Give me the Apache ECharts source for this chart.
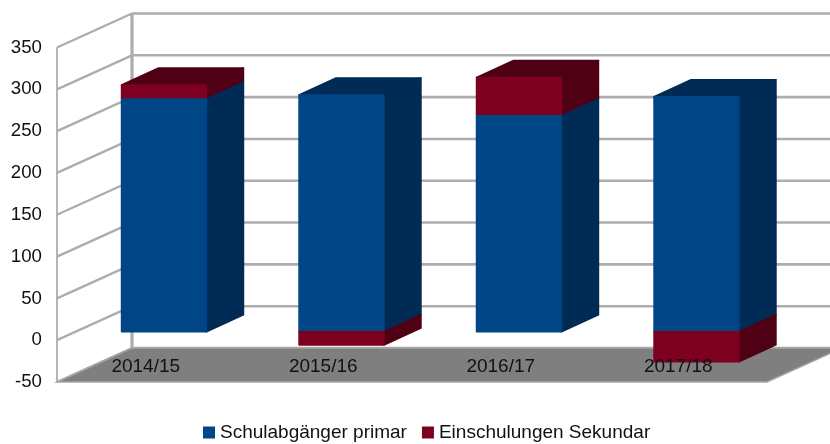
<!DOCTYPE html>
<html>
<head>
<meta charset="utf-8">
<style>html,body{margin:0;padding:0;background:#fff}#c{width:830px;height:444px}</style>
<script src="https://cdn.jsdelivr.net/npm/echarts@6/dist/echarts.min.js"></script>
</head>
<body>
<div id="c"></div>
<script>
const categories = ['2014/15', '2015/16', '2016/17', '2017/18'];
const schulabgaenger = [280, 283, 260, 281];
const einschulungen = [15, -16, 44, -36];
const yTicks = [-50, 0, 50, 100, 150, 200, 250, 300, 350];
const nameBlue = 'Schulabgänger primar';
const nameRed = 'Einschulungen Sekundar';

const DX = 75, DY = -34;          // oblique projection of the full depth
const NEAR = 0.25, FAR = 0.75;    // depth range occupied by bars
const BAR_FRAC = 0.478;
const FONT = '"Liberation Sans", Arial, sans-serif';
const GRID = '#adadad';

const chart = echarts.init(document.getElementById('c'), null, {renderer: 'canvas'});

function line(x1, y1, x2, y2, w, color) {
  return {type: 'line', shape: {x1, y1, x2, y2}, style: {stroke: color || GRID, lineWidth: w, fill: null}};
}
function poly(points, fill) {
  return {type: 'polygon', shape: {points},
          style: {fill, stroke: fill, lineWidth: 1.6, lineJoin: 'round'}};
}

function renderWall(params, api) {
  const v = api.value(0);
  const step = api.size([1, 0])[0];
  const p0 = api.coord([0, v]);
  const x0 = p0[0] - step / 2;
  const x1 = api.coord([categories.length - 1, v])[0] + step / 2;
  const y = p0[1];
  const kids = [
    line(x0, y, x0 + DX, y + DY, 2.4),
    line(x0 + DX, y + DY, x1 + DX, y + DY, 2.6)
  ];
  if (params.dataIndex === 0) {
    const top = api.coord([0, yTicks[yTicks.length - 1]])[1];
    kids.unshift(
      line(x0, top, x0, y, 1.8),
      line(x0 + DX, top + DY, x0 + DX, y + DY, 3.2)
    );
    kids.push({type: 'polygon',
      shape: {points: [[x0, y], [x0 + DX, y + DY], [x1 + DX, y + DY], [x1, y]]},
      style: {fill: '#7f7f7f', stroke: '#a6a6a6', lineWidth: 1.4}});
  }
  return {type: 'group', children: kids};
}

function boxRenderer(front, dark) {
  return function (params, api) {
    const cat = api.value(0), lo = api.value(1), hi = api.value(2), showTop = api.value(3);
    if (lo === hi) return null;
    const half = api.size([1, 0])[0] * BAR_FRAC / 2;
    const a = api.coord([cat, lo]), b = api.coord([cat, hi]);
    const fx = NEAR * DX - 0.5, fy = NEAR * DY;
    const dx = (FAR - NEAR) * DX - 0.5, dy = (FAR - NEAR) * DY;
    const xL = a[0] - half + fx, xR = a[0] + half + fx;
    const yB = a[1] + fy, yT = b[1] + fy;
    const kids = [
      poly([[xR, yB], [xR + dx, yB + dy], [xR + dx, yT + dy], [xR, yT]], dark),
      poly([[xL, yB], [xR, yB], [xR, yT], [xL, yT]], front)
    ];
    if (showTop) kids.unshift(poly([[xL, yT], [xR, yT], [xR + dx, yT + dy], [xL + dx, yT + dy]], dark));
    return {type: 'group', children: kids};
  };
}

const blueData = categories.map((c, i) => [i, 0, schulabgaenger[i], einschulungen[i] > 0 ? 0 : 1]);
const redData = categories.map((c, i) => {
  const r = einschulungen[i];
  return r > 0 ? [i, schulabgaenger[i], schulabgaenger[i] + r, 1] : [i, r, 0, 0];
});

chart.setOption({
  animation: false,
  backgroundColor: '#fff',
  grid: {left: 57, top: 47.5, width: 710, height: 334.5, containLabel: false},
  legend: {
    show: true,
    data: [nameBlue, nameRed],
    left: 198,
    top: 418,
    icon: 'rect',
    itemWidth: 12,
    itemHeight: 12,
    itemGap: 15,
    textStyle: {fontFamily: FONT, fontSize: 19, color: '#111', padding: [0, 0, 0, 0]}
  },
  xAxis: {
    type: 'category',
    data: categories,
    z: 20,
    axisLine: {show: false},
    axisTick: {show: false},
    splitLine: {show: false},
    axisLabel: {interval: 0, margin: -25, fontFamily: FONT, fontSize: 19, color: '#111', hideOverlap: false}
  },
  yAxis: {
    type: 'value',
    min: -50,
    max: 350,
    interval: 50,
    axisLine: {show: false},
    axisTick: {show: false},
    splitLine: {show: false},
    axisLabel: {margin: 15, fontFamily: FONT, fontSize: 18.67, color: '#111'}
  },
  series: [
    {type: 'custom', silent: true, z: 1, clip: false, data: yTicks.map(v => [v]),
     encode: {y: 0}, renderItem: renderWall},
    {type: 'custom', name: nameBlue, z: 3, clip: false, data: blueData,
     itemStyle: {color: '#004586'}, encode: {x: 0, y: [1, 2]},
     renderItem: boxRenderer('#004586', '#002b55')},
    {type: 'custom', name: nameRed, z: 4, clip: false, data: redData,
     itemStyle: {color: '#7e0021'}, encode: {x: 0, y: [1, 2]},
     renderItem: boxRenderer('#7e0021', '#4f0015')}
  ]
});
</script>
</body>
</html>
